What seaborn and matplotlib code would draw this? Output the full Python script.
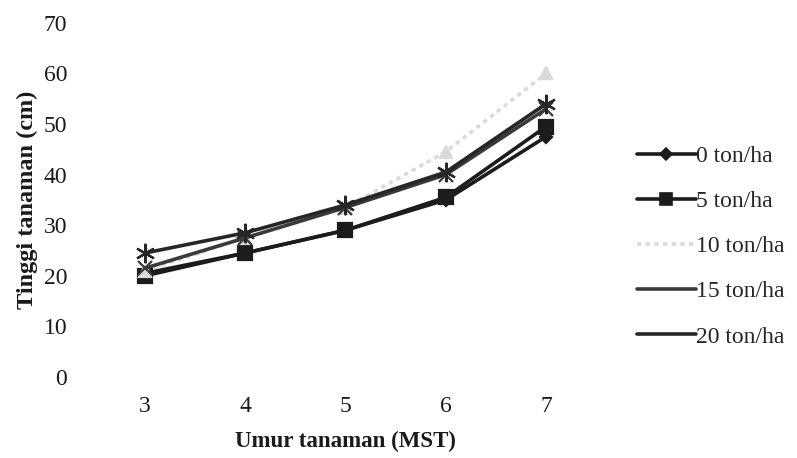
import matplotlib
matplotlib.use("Agg")
import matplotlib.pyplot as plt
import pandas as pd
import seaborn as sns

# Plant height (cm) by plant age (weeks after planting) for each manure dose
weeks = [3, 4, 5, 6, 7]
week_labels = ["3", "4", "5", "6", "7"]
doses = ["0 ton/ha", "5 ton/ha", "10 ton/ha", "15 ton/ha", "20 ton/ha"]
height_0 = [20.5, 24.5, 29.0, 35.0, 47.5]
height_5 = [20.0, 24.5, 29.0, 35.5, 49.5]
height_10 = [21.0, 27.5, 33.5, 44.5, 60.0]
height_15 = [21.5, 27.5, 33.5, 40.0, 53.0]
height_20 = [24.5, 28.5, 34.0, 40.5, 54.0]
y_ticks = [0, 10, 20, 30, 40, 50, 60, 70]

series = [height_0, height_5, height_10, height_15, height_20]
df = pd.DataFrame({
    "umur": [w for _ in doses for w in weeks],
    "tinggi": [v for s in series for v in s],
    "dosis": [d for d in doses for _ in weeks],
})

sns.set_theme(style="white")
plt.rcParams["font.family"] = ["Liberation Serif", "DejaVu Serif"]

fig = plt.figure(figsize=(7.97, 4.58), dpi=100)
ax = fig.add_axes([0.119, 0.177, 0.629, 0.773])

palette = {
    "0 ton/ha": "#1c1c1c",
    "5 ton/ha": "#1c1c1c",
    "10 ton/ha": "#dadada",
    "15 ton/ha": "#3a3a3a",
    "20 ton/ha": "#262626",
}
# filled placeholders for seaborn; line-art markers are applied afterwards
fill_markers = {
    "0 ton/ha": "D",
    "5 ton/ha": "s",
    "10 ton/ha": "^",
    "15 ton/ha": "X",
    "20 ton/ha": "P",
}
final_markers = {
    "0 ton/ha": "D",
    "5 ton/ha": "s",
    "10 ton/ha": "^",
    "15 ton/ha": "x",
    "20 ton/ha": (6, 2, 0),
}
dashes = {
    "0 ton/ha": "",
    "5 ton/ha": "",
    "10 ton/ha": (1.2, 1.2),
    "15 ton/ha": "",
    "20 ton/ha": "",
}
sizes = {"0 ton/ha": 6, "5 ton/ha": 10, "10 ton/ha": 9, "15 ton/ha": 10, "20 ton/ha": 14}

sns.lineplot(
    data=df, x="umur", y="tinggi", hue="dosis", style="dosis",
    hue_order=doses, style_order=doses, palette=palette,
    markers=fill_markers, dashes=dashes, linewidth=2.6, ax=ax,
)

for line, dose in zip(ax.lines, doses):
    line.set_marker(final_markers[dose])
    line.set_markeredgecolor(line.get_color())
    line.set_markerfacecolor(line.get_color())
    line.set_markersize(sizes[dose])
    line.set_markeredgewidth(1.6)

handles, labels = ax.get_legend_handles_labels()
ax.get_legend().remove()
for h, lab in zip(handles, labels):
    h.set_linewidth(2.6)
    h.set_markeredgecolor(h.get_color())
    h.set_markerfacecolor(h.get_color())
    h.set_markeredgewidth(1.2)
    if lab in ("15 ton/ha", "20 ton/ha", "10 ton/ha"):
        h.set_marker("")
    elif lab == "0 ton/ha":
        h.set_markersize(6)
    else:
        h.set_markersize(9)

fig.legend(
    handles, labels, loc="upper left", bbox_to_anchor=(0.787, 0.703),
    frameon=False, fontsize=17, handlelength=2.5, handletextpad=0.0,
    labelspacing=1.0, borderaxespad=0,
)

ax.set_xlim(2.5, 7.5)
ax.set_ylim(0, 70)
ax.set_xticks(weeks)
ax.set_xticklabels(week_labels)
ax.set_yticks(y_ticks)
ax.tick_params(axis="both", length=0, labelsize=17, colors="#1a1a1a")
ax.tick_params(axis="y", pad=20)
ax.tick_params(axis="x", pad=14)
for spine in ax.spines.values():
    spine.set_visible(False)

ax.set_xlabel("Umur tanaman (MST)", fontsize=16.5, fontweight="bold", labelpad=10, color="#1a1a1a")
ax.set_ylabel("Tinggi tanaman (cm)", fontsize=17.5, fontweight="bold", labelpad=4, color="#1a1a1a")

fig.savefig("out.png", dpi=100)
